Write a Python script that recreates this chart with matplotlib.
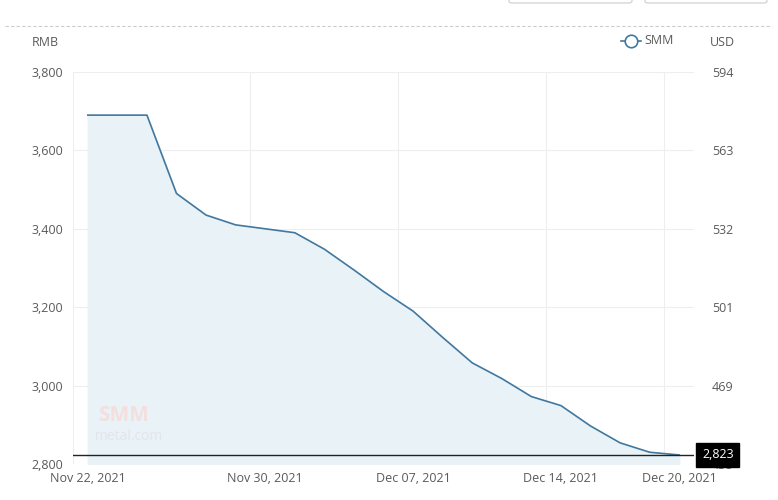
import matplotlib
matplotlib.use('Agg')
import matplotlib.pyplot as plt
from matplotlib.lines import Line2D
from matplotlib.patches import FancyBboxPatch
import matplotlib.transforms as mtransforms

plt.rcParams['font.family'] = ['Open Sans', 'DejaVu Sans']

# trading days Nov 22 - Dec 20, 2021
dates = ['Nov 22', 'Nov 23', 'Nov 24', 'Nov 25', 'Nov 26',
         'Nov 29', 'Nov 30', 'Dec 01', 'Dec 02', 'Dec 03',
         'Dec 06', 'Dec 07', 'Dec 08', 'Dec 09', 'Dec 10',
         'Dec 13', 'Dec 14', 'Dec 15', 'Dec 16', 'Dec 17',
         'Dec 20']
prices = [3690, 3690, 3690, 3490, 3435, 3410, 3400, 3390, 3348, 3295,
          3240, 3190, 3123, 3058, 3018, 2972, 2949, 2897, 2854, 2830, 2823]
tick_dates = ['Nov 22, 2021', 'Nov 30, 2021', 'Dec 07, 2021', 'Dec 14, 2021', 'Dec 20, 2021']
rmb_ticks = [2800, 3000, 3200, 3400, 3600, 3800]
usd_labels = ['438', '469', '501', '532', '563', '594']
last_value = prices[-1]

line_color = '#41789f'
fill_color = '#e9f2f7'
grid_color = '#eeeeee'
text_color = '#5a5a5a'

fig = plt.figure(figsize=(7.78, 5.0), dpi=100)
ax = fig.add_axes([73/778, 1-464/500, (694-73)/778, (464-72)/500])

x = list(range(len(dates)))
ax.fill_between(x, prices, 2800, color=fill_color, zorder=1)
ax.plot(x, prices, color=line_color, lw=1.2, zorder=3)
ax.axhline(last_value, color='#222222', lw=1, zorder=4)

ax.set_xlim(-0.5, len(dates) - 0.5)
ax.set_ylim(2800, 3800)
ax.set_yticks(rmb_ticks)
ax.set_yticklabels([f'{v:,}' for v in rmb_ticks])
ax.set_xticks([dates.index(d.split(',')[0]) for d in tick_dates])
ax.set_xticklabels(tick_dates)
for v in rmb_ticks:
    ax.axhline(v, color=grid_color, lw=0.8, zorder=0)
for g in [-0.5, 5.5, 10.5, 15.5, 19.5]:
    ax.axvline(g, color=grid_color, lw=0.8, zorder=0)
for s in ax.spines.values():
    s.set_visible(False)
ax.tick_params(axis='both', length=0, labelsize=9, colors=text_color)
ax.tick_params(axis='x', pad=6)
ax.tick_params(axis='y', pad=7)

ax2 = ax.twinx()
ax2.set_ylim(2800, 3800)
ax2.set_yticks(rmb_ticks)
ax2.set_yticklabels(usd_labels)
for s in ax2.spines.values():
    s.set_visible(False)
ax2.tick_params(axis='y', length=0, labelsize=9, colors=text_color, pad=13)

# current value label
trans = mtransforms.blended_transform_factory(ax.transAxes, ax.transData)
ax2.text(1.013, last_value, f'{last_value:,}', transform=trans, ha='left', va='center',
         color='white', fontsize=9, zorder=10,
         bbox=dict(boxstyle='square,pad=0.45', fc='black', ec='black'))

# watermark
ax.text(0.04, 0.11, 'SMM', transform=ax.transAxes, fontsize=15, fontweight='bold',
        color='#f4dede', zorder=2)
ax.text(0.035, 0.06, 'metal.com', transform=ax.transAxes, fontsize=10,
        color='#e2e6ea', zorder=2)

# axis unit labels and legend
fig.text(45/778, 1-42/500, 'RMB', ha='center', va='center', fontsize=9, color=text_color)
fig.text(722/778, 1-42/500, 'USD', ha='center', va='center', fontsize=9, color=text_color)
fig.add_artist(Line2D([621/778, 641/778], [1-41/500, 1-41/500], color=line_color, lw=1.2,
                      transform=fig.transFigure))
fig.add_artist(Line2D([631/778], [1-41/500], color=line_color, lw=0, marker='o', ms=9,
                      mfc='white', mec=line_color, mew=1.2, transform=fig.transFigure))
fig.text(644/778, 1-40/500, 'SMM', ha='left', va='center', fontsize=9, color=text_color)

# dashed separator and top buttons
fig.add_artist(Line2D([5/778, 772/778], [1-26/500, 1-26/500], color='#cccccc', lw=0.8,
                      ls=(0, (3, 2)), transform=fig.transFigure))
for x0, x1 in [(509, 632), (645, 767)]:
    fig.add_artist(FancyBboxPatch((x0/778, 1-3/500), (x1-x0)/778, 12/500,
                                  boxstyle='round,pad=0,rounding_size=0.004',
                                  fc='white', ec='#cccccc', lw=0.8,
                                  transform=fig.transFigure))

fig.savefig('out.png', dpi=100)
